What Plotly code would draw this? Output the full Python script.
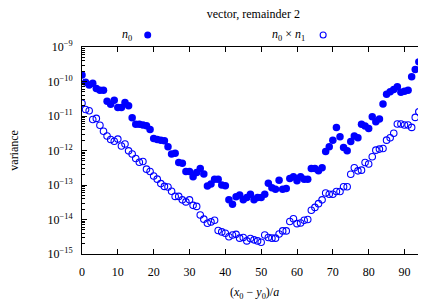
import numpy as np
import plotly.graph_objects as go

# x positions (x0 - y0)/a
sep = list(range(96))

# log10(variance) for n0 (filled)
n0_log = [-9.81, -10.02, -10.10, -10.05, -10.20, -10.25, -10.25, -10.57, -10.66, -10.54,
          -10.75, -10.75, -10.61, -10.70, -11.05, -11.24, -11.24, -11.26, -11.28, -11.39,
          -11.65, -11.68, -11.70, -11.72, -11.89, -12.10, -12.08, -12.35, -12.37, -12.61,
          -12.61, -12.76, -12.64, -12.52, -12.68, -13.03, -12.97, -12.83, -12.83, -13.00,
          -13.02, -13.43, -13.56, -13.34, -13.29, -13.43, -13.36, -13.27, -13.43, -13.36,
          -13.36, -13.27, -12.95, -13.08, -13.12, -12.86, -13.12, -13.10, -12.81, -12.76,
          -12.88, -12.76, -12.83, -12.83, -12.52, -12.52, -12.59, -12.50, -12.03, -11.89,
          -11.70, -11.33, -11.60, -11.91, -12.01, -11.74, -11.58, -11.63, -11.24, -11.29,
          -11.36, -11.02, -11.17, -11.09, -10.65, -10.37, -10.30, -10.23, -10.15, -10.31,
          -10.28, -10.25, -9.86, -9.65, -9.43, -9.23]

# log10(variance) for n0 x n1 (open)
n0n1_log = [-10.63, -10.81, -10.85, -11.10, -11.07, -11.27, -11.44, -11.58, -11.68, -11.73,
            -11.67, -11.87, -11.81, -12.01, -12.10, -12.23, -12.34, -12.32, -12.54, -12.61,
            -12.74, -12.83, -12.96, -13.04, -13.06, -13.18, -13.33, -13.33, -13.43, -13.49,
            -13.43, -13.59, -13.62, -13.87, -13.99, -14.11, -14.07, -14.02, -14.32, -14.36,
            -14.40, -14.50, -14.45, -14.43, -14.54, -14.52, -14.62, -14.55, -14.59, -14.62,
            -14.66, -14.45, -14.52, -14.54, -14.54, -14.42, -14.33, -14.33, -14.06, -13.98,
            -14.12, -14.10, -14.02, -14.00, -13.73, -13.65, -13.54, -13.43, -13.23, -13.27,
            -13.27, -13.19, -13.19, -13.05, -13.05, -12.69, -12.50, -12.59, -12.57, -12.35,
            -12.39, -12.18, -11.99, -11.96, -11.94, -11.70, -11.63, -11.50, -11.23, -11.23,
            -11.26, -11.26, -11.33, -11.04, -10.88, -10.81]

y_exps = [-15, -14, -13, -12, -11, -10, -9]
x_ticks = [0, 10, 20, 30, 40, 50, 60, 70, 80, 90]

BLUE = "#0000ff"
FONT = "Liberation Serif, Times New Roman, Times, serif"
FS = 12

n0 = [10 ** v for v in n0_log]
n0n1 = [10 ** v for v in n0n1_log]

fig = go.Figure()
fig.add_trace(go.Scatter(x=sep, y=n0, mode="markers", name="n0",
                         marker=dict(symbol="circle", size=7.5, color=BLUE, line=dict(width=0)),
                         cliponaxis=True))
fig.add_trace(go.Scatter(x=sep, y=n0n1, mode="markers", name="n0 x n1",
                         marker=dict(symbol="circle-open", size=6.5, color=BLUE, line=dict(width=1.1)),
                         cliponaxis=True))

minor_vals = [k * 10.0 ** e for e in y_exps[:-1] for k in range(2, 10)]

fig.update_layout(
    width=426, height=301,
    margin=dict(l=74, r=8, t=39, b=55),
    paper_bgcolor="white", plot_bgcolor="white",
    showlegend=False,
    font=dict(family=FONT, size=FS, color="black"),
    title=dict(text="vector, remainder 2", x=0.576, xanchor="center", y=0.994, yanchor="top",
               pad=dict(t=0, b=0), font=dict(family=FONT, size=FS, color="black")),
    xaxis=dict(range=[0, 96], tickvals=x_ticks, ticks="inside", ticklen=5, tickwidth=1,
               tickcolor="black", showline=True, linecolor="black", linewidth=1, mirror="ticks",
               showgrid=False, zeroline=False, ticklabelstandoff=7,
               tickfont=dict(family=FONT, size=FS)),
    yaxis=dict(type="log", range=[-15, -9],
               tickvals=[10.0 ** e for e in y_exps],
               ticktext=["10<sup>\u2212%d</sup>" % (-e) for e in y_exps],
               ticks="inside", ticklen=5, tickwidth=1, tickcolor="black",
               showline=True, linecolor="black", linewidth=1, mirror="ticks",
               showgrid=False, zeroline=False, ticklabelstandoff=6,
               tickfont=dict(family=FONT, size=FS),
               minor=dict(tickvals=minor_vals, ticks="inside", ticklen=2.5, tickcolor="black",
                          tickwidth=1, showgrid=False)),
)

annotations = [
    dict(text="(<i>x</i><sub>0</sub> \u2212 <i>y</i><sub>0</sub>)/<i>a</i>", xref="paper", yref="paper",
         x=0.5, y=-0.188, xanchor="center", yanchor="middle", showarrow=False,
         font=dict(family=FONT, size=FS)),
    dict(text="variance", xref="paper", yref="paper", x=-0.2, y=0.5, textangle=-90,
         xanchor="center", yanchor="middle", showarrow=False, font=dict(family=FONT, size=FS)),
    dict(text="<i>n</i><sub>0</sub>", xref="paper", yref="paper", x=0.152, y=1.058,
         xanchor="right", yanchor="middle", showarrow=False, font=dict(family=FONT, size=FS)),
    dict(text="<i>n</i><sub>0</sub> \u00d7 <i>n</i><sub>1</sub>", xref="paper", yref="paper",
         x=0.654, y=1.058, xanchor="right", yanchor="middle", showarrow=False,
         font=dict(family=FONT, size=FS)),
]
fig.update_layout(annotations=annotations)

shapes = [
    dict(type="circle", xref="paper", yref="paper", xsizemode="pixel", ysizemode="pixel",
         xanchor=0.191, yanchor=1.058, x0=-3.5, x1=3.5, y0=-3.5, y1=3.5,
         fillcolor=BLUE, line=dict(width=0)),
    dict(type="circle", xref="paper", yref="paper", xsizemode="pixel", ysizemode="pixel",
         xanchor=0.701, yanchor=1.058, x0=-3, x1=3, y0=-3, y1=3,
         fillcolor="white", line=dict(color=BLUE, width=1.1)),
]
fig.update_layout(shapes=shapes)

fig.write_html("out.html")
